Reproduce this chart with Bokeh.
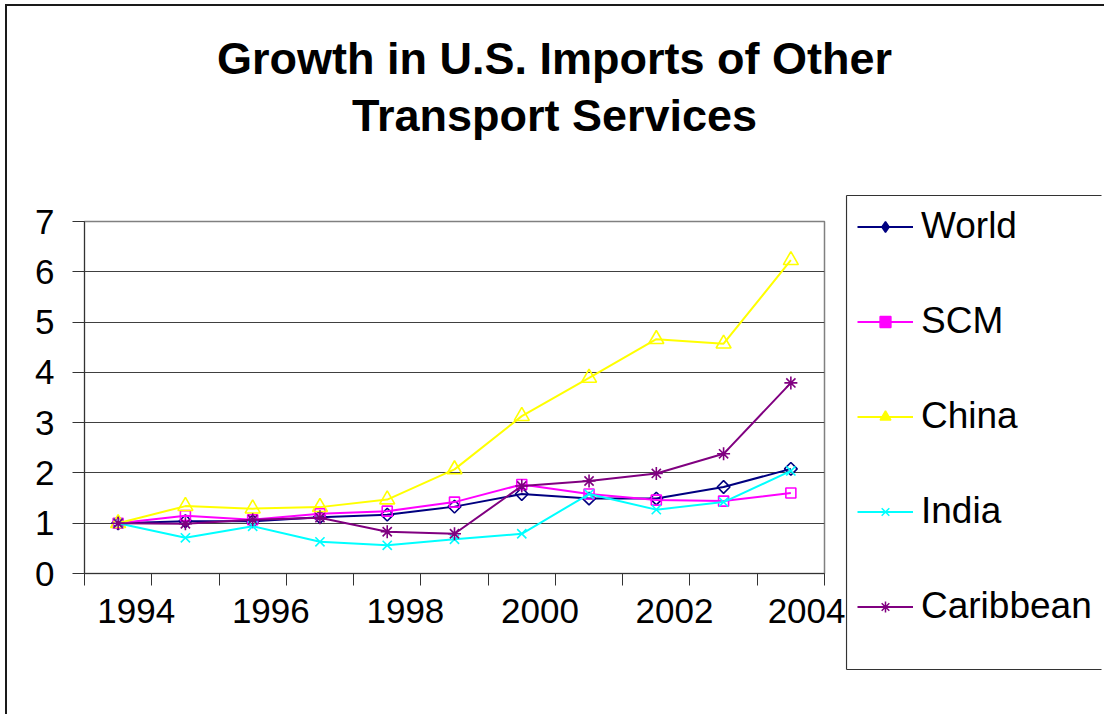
import math
from bokeh.plotting import figure
from bokeh.layouts import row, column
from bokeh.models import Range1d, FixedTicker, Legend, LegendItem, Label, ColumnDataSource
from bokeh.embed import file_html
from bokeh.resources import INLINE

# ---------------- data ----------------
years = [1994, 1995, 1996, 1997, 1998, 1999, 2000, 2001, 2002, 2003, 2004]
world = [1.00, 1.04, 1.04, 1.12, 1.17, 1.33, 1.58, 1.49, 1.49, 1.72, 2.08]
scm = [1.00, 1.15, 1.07, 1.19, 1.24, 1.42, 1.77, 1.58, 1.46, 1.44, 1.60]
china = [1.00, 1.34, 1.29, 1.32, 1.47, 2.07, 3.13, 3.89, 4.66, 4.57, 6.23]
india = [1.00, 0.71, 0.94, 0.63, 0.56, 0.68, 0.79, 1.58, 1.27, 1.42, 2.04]
caribbean = [1.00, 0.99, 1.07, 1.11, 0.83, 0.79, 1.74, 1.84, 1.99, 2.38, 3.79]

series_names = ["World", "SCM", "China", "India", "Caribbean"]
series_values = [world, scm, china, india, caribbean]
series_colors = ["#000080", "#FF00FF", "#FFFF00", "#00FFFF", "#800080"]

x_tick_labels = ["1994", "1996", "1998", "2000", "2002", "2004"]
y_ticks = [0, 1, 2, 3, 4, 5, 6, 7]

title_line1 = "Growth in U.S. Imports of Other"
title_line2 = "Transport Services"

FONT = "Liberation Sans"

TOTAL_W, TOTAL_H = 1097, 708
TITLE_H = 150
MAIN_W = 838
BODY_H = TOTAL_H - TITLE_H


def no_align(fig):
    if "frame_align" in fig.properties():
        fig.frame_align = False


# ---------------- title strip ----------------
tf = figure(width=TOTAL_W, height=TITLE_H, output_backend="svg", toolbar_location=None,
            x_range=Range1d(0, TOTAL_W), y_range=Range1d(TITLE_H, 0),
            x_axis_type=None, y_axis_type=None, title=None,
            min_border_left=0, min_border_right=0, min_border_top=0, min_border_bottom=0)
tf.outline_line_color = None
tf.grid.visible = False
tf.background_fill_color = "white"
tf.border_fill_color = "white"
no_align(tf)
for txt, base in ((title_line1, 51.5), (title_line2, 109.0)):
    tf.add_layout(Label(x=547, y=base, text=txt, text_align="center",
                        text_baseline="alphabetic", text_font=FONT,
                        text_font_size="45px", text_font_style="bold",
                        text_color="black"))

# ---------------- main figure ----------------
p = figure(width=MAIN_W, height=BODY_H, output_backend="svg", toolbar_location=None,
           x_range=Range1d(1993.5, 2004.5), y_range=Range1d(0, 7), title=None,
           min_border_left=77, min_border_right=MAIN_W - 77 - 740,
           min_border_top=65, min_border_bottom=141)
p.background_fill_color = "white"
p.border_fill_color = "white"
p.outline_line_color = "#808080"
p.outline_line_width = 1.5
no_align(p)

# x axis: category boundaries as minor ticks, labels slightly right of points
label_shift = 0.27
label_years = [int(s) for s in x_tick_labels]
label_pos = [y + label_shift for y in label_years]
boundaries = [years[0] - 0.5 + i for i in range(len(years) + 1)]
xa = p.xaxis[0]
xa.ticker = FixedTicker(ticks=label_pos, minor_ticks=boundaries)
xa.major_label_overrides = {pos: lab for pos, lab in zip(label_pos, x_tick_labels)}
xa.major_tick_out = 0
xa.major_tick_in = 0
xa.minor_tick_out = 12
xa.minor_tick_in = 0
xa.minor_tick_line_color = "#333333"
xa.axis_line_color = "#333333"
xa.major_label_standoff = 13
xa.major_label_text_font = FONT
xa.major_label_text_font_size = "35px"
xa.major_label_text_color = "black"

ya = p.yaxis[0]
ya.ticker = FixedTicker(ticks=y_ticks)
ya.major_tick_out = 12
ya.major_tick_in = 0
ya.minor_tick_line_color = None
ya.major_tick_line_color = "#333333"
ya.axis_line_color = "#333333"
ya.major_label_standoff = 18
ya.major_label_text_font = FONT
ya.major_label_text_font_size = "35px"
ya.major_label_text_color = "black"

p.xgrid.visible = False
p.ygrid.grid_line_color = "#404040"
p.ygrid.grid_line_width = 1

# ---------------- legend figure ----------------
LW = TOTAL_W - MAIN_W
pl = figure(width=LW, height=BODY_H, output_backend="svg", toolbar_location=None,
            x_range=Range1d(0, LW), y_range=Range1d(0, BODY_H), title=None,
            x_axis_type=None, y_axis_type=None,
            min_border_left=0, min_border_right=0, min_border_top=0, min_border_bottom=0)
pl.outline_line_color = None
pl.background_fill_color = "white"
pl.border_fill_color = "white"
pl.grid.visible = False
no_align(pl)

# legend frame: left, top and bottom edges (the box runs on past the page edge)
box_left, box_right, box_bottom, box_top = 1, LW - 3, 45, 519
pl.segment(x0=[box_left, box_left, box_left], y0=[box_bottom, box_top, box_bottom],
           x1=[box_left, box_right, box_right], y1=[box_top, box_top, box_bottom],
           line_color="#333333", line_width=1.2)

# ---------------- series ----------------
plot_markers = [
    dict(marker="square", size=9, angle=math.pi / 4),
    dict(marker="square", size=10, angle=0.0),
    dict(marker="triangle", size=15, angle=0.0),
    dict(marker="x", size=13, angle=0.0),
    dict(marker="asterisk", size=13, angle=0.0),
]
legend_markers = ["diamond", "square", "triangle", "x", "asterisk"]
legend_filled = [True, True, True, False, False]

items = []
for name, vals, col, mk, lmk, filled in zip(series_names, series_values, series_colors,
                                             plot_markers, legend_markers, legend_filled):
    src = ColumnDataSource(data=dict(x=years, y=vals))
    p.line("x", "y", source=src, line_color=col, line_width=2)
    p.scatter("x", "y", source=src, marker=mk["marker"], size=mk["size"],
              angle=mk["angle"], line_color=col, line_width=1.6, fill_color=None)
    # legend sample glyphs (no visible data points)
    lsrc = ColumnDataSource(data=dict(x=[float("nan")], y=[float("nan")]))
    lr = pl.line("x", "y", source=lsrc, line_color=col, line_width=2)
    lm = pl.scatter("x", "y", source=lsrc, marker=lmk, size=mk["size"],
                    line_color=col, line_width=1.5,
                    fill_color=col if filled else None)
    items.append(LegendItem(label=name, renderers=[lr, lm]))

legend = Legend(items=items, location=(12, 54),
                border_line_color=None, background_fill_alpha=0.0,
                padding=10, spacing=53, glyph_width=56, glyph_height=27,
                label_standoff=8, margin=0,
                label_text_font=FONT, label_text_font_size="37px",
                label_text_color="black")
if "title_location" in Legend.properties():
    legend.title = " "
    legend.title_location = "below"
    legend.title_text_font_size = "20px"
    legend.title_standoff = 10
pl.add_layout(legend)

lay = column(tf, row(p, pl, spacing=0), spacing=0)
lay.styles = {"margin-left": "5px", "margin-top": "4px",
              "border-left": "2px solid #1a1a1a", "border-top": "2px solid #1a1a1a"}

open("out.html", "w").write(file_html(lay, INLINE))
